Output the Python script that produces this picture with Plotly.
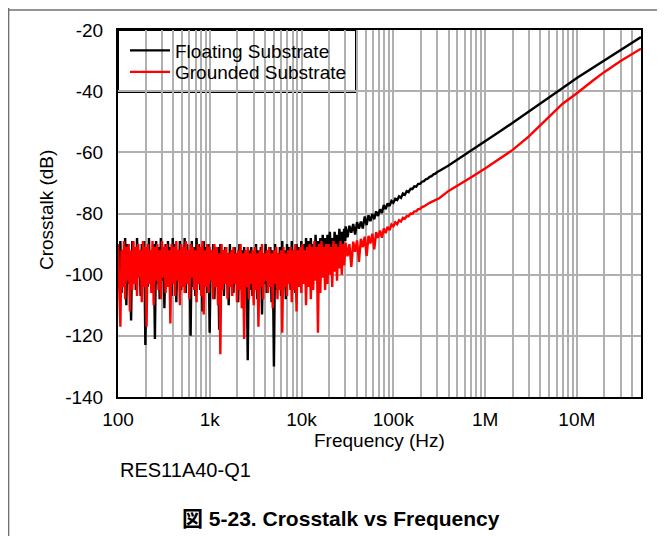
import numpy as np
import plotly.graph_objects as go

# ---------------- data ----------------
# measurement sweep grids (Hz)
noise_sweep_f = np.logspace(2, np.log10(30000), 192)        # 100 Hz .. 30 kHz
trans_sweep_f = np.logspace(4.48, 5.5, 50)                   # 30 kHz .. 316 kHz
smooth_f = [4e5, 5e5, 7e5, 1e6, 1.5e6, 2e6, 3e6, 4e6, 5e6, 7e6,
            1e7, 1.5e7, 2e7, 3e7, 4e7, 5e7]

# Floating substrate (black), dB
floating_noise = [
    -91, -104, -89, -106, -92, -101, -88, -110, -90, -103, -93, -115, -89, -102, -91, -105,
    -88, -100, -92, -107, -90, -103, -89, -123, -91, -104, -88, -101, -93, -106, -90, -121,
    -89, -103, -91, -108, -88, -102, -92, -111, -90, -104, -89, -100, -91, -107, -88, -103,
    -90, -109, -92, -101, -89, -105, -91, -103, -88, -106, -90, -102, -92, -120, -89, -104,
    -91, -107, -88, -101, -90, -105, -92, -112, -89, -103, -91, -106, -90, -119, -92, -102,
    -90, -108, -93, -101, -91, -118, -90, -104, -92, -107, -91, -103, -93, -110, -90, -104,
    -92, -106, -91, -102, -93, -109, -90, -104, -92, -111, -91, -103, -93, -128, -92, -105,
    -91, -107, -93, -102, -90, -108, -92, -104, -91, -113, -93, -103, -90, -106, -92, -104,
    -91, -109, -92, -130, -90, -105, -93, -102, -91, -107, -89, -103, -92, -108, -90, -101,
    -91, -105, -89, -102, -92, -106, -90, -100, -91, -104, -89, -99, -90, -103, -88, -98,
    -89, -102, -88, -97, -90, -100, -87, -96, -89, -101, -88, -95, -87, -98, -88, -94,
    -87, -96, -86, -93, -88, -95, -86, -92, -87, -94, -85, -91, -86, -90, -85, -89,
]
floating_trans = [
    -84.2, -87.8, -84.0, -86.3, -83.4, -86.9, -82.8, -85.0, -82.6, -84.9,
    -81.0, -83.8, -80.6, -82.5, -80.1, -81.9, -79.3, -80.8, -78.6, -79.8,
    -77.2, -78.6, -76.7, -77.6, -75.9, -76.5, -75.2, -75.6, -74.4, -74.9,
    -73.5, -73.9, -72.7, -73.0, -71.9, -72.0, -71.1, -71.2, -70.3, -70.3,
    -69.6, -69.4, -68.8, -68.6, -68.0, -67.8, -67.2, -67.0, -66.4, -66.1,
]
floating_smooth = [-64.3, -62.4, -59.5, -56.5, -52.9, -50.3, -46.7, -44.1, -42.0, -39.0,
                   -35.7, -32.3, -29.8, -26.4, -24.0, -22.3]

# Grounded substrate (red), dB
grounded_noise = [
    -90, -106, -117, -92, -104, -89, -108, -91, -102, -90, -112, -92, -105, -89, -103, -91,
    -107, -90, -101, -92, -109, -89, -104, -91, -117, -90, -103, -92, -106, -89, -110, -91,
    -102, -90, -105, -92, -108, -89, -101, -91, -106, -90, -104, -92, -116, -90, -103, -91,
    -107, -89, -102, -92, -110, -90, -104, -91, -106, -89, -103, -92, -108, -90, -101, -91,
    -105, -92, -109, -90, -103, -91, -107, -89, -113, -92, -104, -90, -106, -91, -102, -92,
    -108, -90, -104, -91, -110, -93, -126, -90, -105, -92, -103, -91, -108, -93, -104, -92,
    -107, -91, -103, -93, -109, -92, -105, -90, -111, -93, -121, -92, -104, -91, -108, -93,
    -103, -92, -110, -91, -105, -93, -117, -92, -104, -90, -108, -93, -102, -92, -106, -91,
    -104, -93, -111, -92, -103, -91, -108, -93, -105, -92, -119, -91, -104, -93, -107, -92,
    -103, -91, -109, -92, -105, -90, -112, -92, -104, -91, -106, -90, -103, -92, -110, -91,
    -104, -90, -108, -91, -105, -89, -102, -91, -119, -90, -106, -89, -101, -91, -105, -90,
    -103, -90, -100, -91, -104, -89, -99, -90, -102, -91, -98, -89, -100, -90, -97, -91,
]
grounded_trans = [
    -89.5, -94.0, -90.0, -97.5, -89.2, -92.5, -88.8, -95.8, -88.3, -91.0,
    -87.6, -93.9, -87.3, -89.8, -86.6, -91.7, -86.1, -88.0, -85.6, -87.9,
    -84.9, -86.4, -84.4, -85.4, -83.6, -84.2, -82.9, -83.5, -82.2, -82.6,
    -81.4, -81.7, -80.8, -80.9, -80.0, -80.1, -79.3, -79.3, -78.6, -78.5,
    -77.9, -77.7, -77.2, -76.9, -76.5, -76.2, -75.9, -75.6, -75.3, -75.0,
]
grounded_smooth = [-72.6, -70.9, -68.2, -65.3, -61.8, -59.2, -54.8, -51.3, -48.3, -44.1,
                   -40.7, -36.5, -33.7, -30.1, -27.8, -26.1]

series_names = ["Floating Substrate", "Grounded Substrate"]
series_colors = ["#000000", "#ff0000"]

x_tickvals = [1e2, 1e3, 1e4, 1e5, 1e6, 1e7]
x_ticktext = ["100", "1k", "10k", "100k", "1M", "10M"]
y_tickvals = [-20, -40, -60, -80, -100, -120, -140]
y_ticktext = ["-20", "-40", "-60", "-80", "-100", "-120", "-140"]

# ---------------- figure ----------------
freq = list(noise_sweep_f) + list(trans_sweep_f) + smooth_f
floating = floating_noise + floating_trans + floating_smooth
grounded = grounded_noise + grounded_trans + grounded_smooth

OFF = 8                      # page body margin
W, H = 657, 528
L, T = 110, 22
PW, PH = 523, 367
R = W - L - PW
B = H - T - PH

def px(page_x):
    return (page_x - OFF - L) / PW

def py(page_y):
    return (T + PH - (page_y - OFF)) / PH

FONT = "Arial, 'Liberation Sans', 'Noto Sans CJK JP', sans-serif"

fig = go.Figure()
legend_ids = ["legend", "legend2"]
for name, color, ys, lg in zip(series_names, series_colors, [floating, grounded], legend_ids):
    fig.add_trace(go.Scatter(x=freq, y=ys, mode="lines", name=name, legend=lg,
                             line=dict(color=color, width=2.4)))

grid_col = "#b0b0b0"
fig.update_xaxes(type="log", range=[2, np.log10(5e7)],
                 tickvals=x_tickvals, ticktext=x_ticktext,
                 showgrid=True, gridcolor=grid_col, gridwidth=2,
                 minor=dict(dtick="D1", showgrid=True, gridcolor=grid_col, gridwidth=2, ticks=""),
                 showline=True, linecolor="black", linewidth=2, mirror=True,
                 ticks="", ticklabelstandoff=4,
                 tickfont=dict(family=FONT, size=19, color="black"),
                 zeroline=False)
fig.update_yaxes(range=[-140, -20], tickvals=y_tickvals, ticktext=y_ticktext,
                 showgrid=True, gridcolor=grid_col, gridwidth=2,
                 showline=True, linecolor="black", linewidth=2, mirror=True,
                 ticks="", ticklabelstandoff=9,
                 tickfont=dict(family=FONT, size=19, color="black"),
                 zeroline=False)

shapes = [
    # legend box
    dict(type="rect", xref="paper", yref="paper", x0=px(118), x1=px(356), y0=py(92), y1=py(30),
         fillcolor="white", line=dict(color="black", width=2), layer="between"),
    # page frame
    dict(type="line", xref="paper", yref="paper", x0=px(8.6), x1=px(8.6), y0=py(8), y1=py(536),
         line=dict(color="#707070", width=1.5)),
    dict(type="line", xref="paper", yref="paper", x0=px(8), x1=px(665), y0=py(10), y1=py(10),
         line=dict(color="#707070", width=1.5)),
]

annotations = [
    dict(text="Crosstalk (dB)", xref="paper", yref="paper", x=px(46), y=py(210),
         xanchor="center", yanchor="middle",
         textangle=-90, showarrow=False, font=dict(family=FONT, size=19, color="black")),
    dict(text="Frequency (Hz)", xref="paper", yref="paper", x=px(379.5), y=py(440),
         xanchor="center", yanchor="middle",
         showarrow=False, font=dict(family=FONT, size=19, color="black")),
    dict(text="RES11A40-Q1", xref="paper", yref="paper", x=px(118), y=py(470),
         xanchor="left", yanchor="middle", showarrow=False,
         font=dict(family=FONT, size=20, color="black")),
    dict(text="<b>図 5-23. Crosstalk vs Frequency</b>", xref="paper", yref="paper",
         x=px(341), y=py(518), xanchor="center", yanchor="middle", showarrow=False,
         font=dict(family=FONT, size=21, color="black")),
]

legend_common = dict(xanchor="left", yanchor="top", bgcolor="rgba(0,0,0,0)", borderwidth=0,
                     font=dict(family=FONT, size=19, color="black"), itemwidth=40)

fig.update_layout(
    width=W, height=H,
    margin=dict(l=L, r=R, t=T, b=B, pad=0),
    paper_bgcolor="white", plot_bgcolor="white",
    showlegend=True,
    legend=dict(x=px(125), y=py(31.5), **legend_common),
    legend2=dict(x=px(125), y=py(53), **legend_common),
    shapes=shapes, annotations=annotations,
    font=dict(family=FONT, size=19, color="black"),
)

fig.write_html("out.html")
